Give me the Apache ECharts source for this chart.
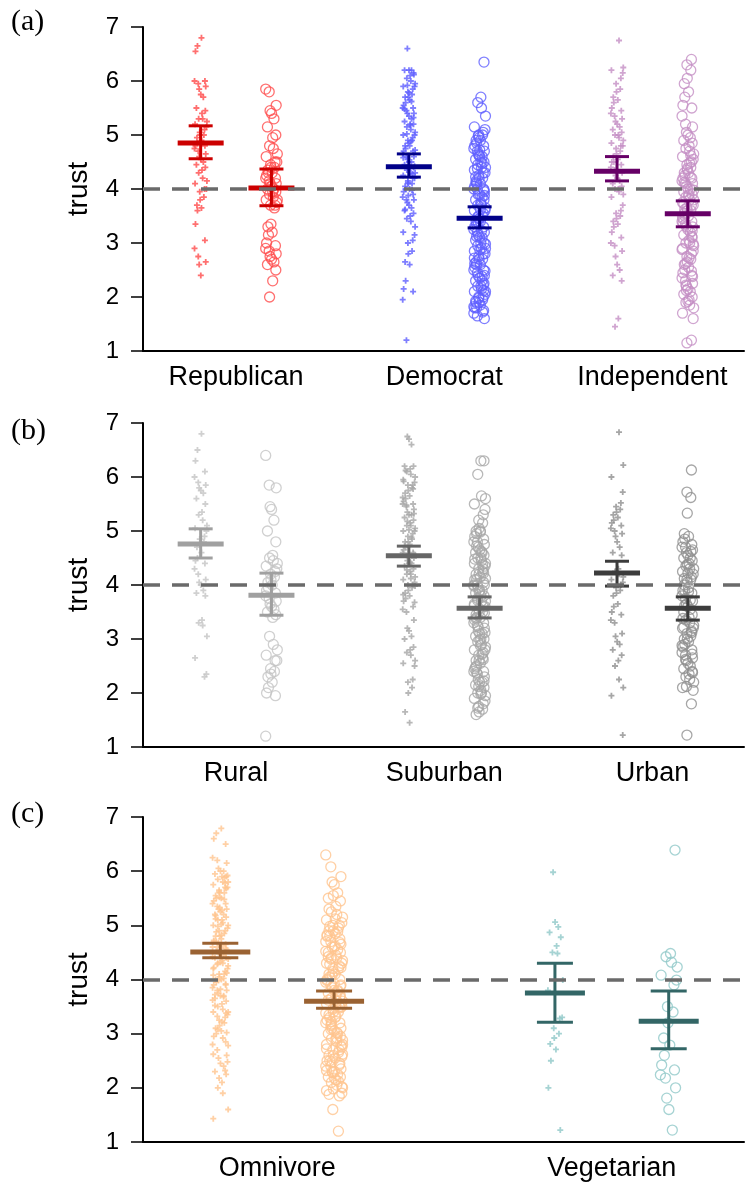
<!DOCTYPE html>
<html>
<head>
<meta charset="utf-8">
<script src="https://cdn.jsdelivr.net/npm/echarts@6/dist/echarts.min.js"></script>
<style>
html,body{margin:0;padding:0;background:#fff}
#main{width:750px;height:1187px}
</style>
</head>
<body>
<div id="main"></div>
<script>
// ---- (a) party ----
var partyCats = ['Republican', 'Democrat', 'Independent'];
var repPlus = [6.8,6.65,6.55,6.0,6.0,5.95,5.9,5.85,5.75,5.7,5.5,5.45,5.4,5.3,5.3,5.25,5.2,5.15,5.1,5.05,5.0,5.0,4.95,4.9,4.85,4.8,4.8,4.75,4.7,4.65,4.6,4.55,4.5,4.45,4.4,4.35,4.3,4.2,4.15,4.1,4.0,4.0,3.95,3.85,3.8,3.7,3.65,3.6,3.35,3.05,2.9,2.75,2.65,2.6,2.4];
var repCircle = [5.85,5.8,5.55,5.45,5.4,5.3,5.15,5.0,4.95,4.8,4.75,4.65,4.6,4.5,4.5,4.45,4.4,4.4,4.35,4.3,4.3,4.25,4.2,4.2,4.15,4.1,4.1,4.05,4.0,4.0,3.95,3.95,3.9,3.85,3.8,3.8,3.75,3.7,3.7,3.65,3.35,3.3,3.2,3.15,3.0,2.95,2.9,2.85,2.8,2.75,2.7,2.65,2.6,2.5,2.3,2.0];
var demPlus = [6.6,6.2,6.2,6.2,6.15,6.1,6.05,6.0,5.95,5.9,5.9,5.85,5.8,5.75,5.7,5.7,5.65,5.6,5.55,5.5,5.5,5.45,5.4,5.4,5.35,5.3,5.25,5.2,5.2,5.15,5.1,5.05,5.0,5.0,4.95,4.9,4.9,4.85,4.8,4.8,4.75,4.7,4.7,4.65,4.6,4.6,4.55,4.5,4.5,4.45,4.4,4.4,4.35,4.3,4.3,4.25,4.2,4.2,4.15,4.1,4.1,4.05,4.0,4.0,3.95,3.9,3.85,3.8,3.8,3.75,3.7,3.65,3.6,3.55,3.5,3.45,3.4,3.3,3.2,3.15,3.05,3.0,2.85,2.8,2.65,2.6,2.3,2.15,2.1,1.95,1.2,
    6.12,5.92,5.78,5.62,5.48,5.32,5.18,5.02,4.88,4.72,4.58,4.42,4.28,4.12,3.98,3.88,3.62];
var demCircle = [6.35,5.7,5.6,5.5,5.35,5.15,5.1,5.05,5.0,5.0,4.95,4.9,4.9,4.85,4.8,4.8,4.75,4.7,4.7,4.65,4.6,4.6,4.55,4.5,4.5,4.45,4.4,4.4,4.35,4.3,4.3,4.25,4.2,4.2,4.15,4.1,4.1,4.05,4.0,4.0,4.0,3.95,3.9,3.9,3.85,3.8,3.8,3.75,3.7,3.7,3.65,3.6,3.6,3.55,3.5,3.5,3.45,3.4,3.4,3.35,3.3,3.3,3.25,3.2,3.2,3.15,3.1,3.1,3.05,3.0,3.0,2.95,2.9,2.9,2.85,2.8,2.8,2.75,2.7,2.7,2.65,2.6,2.6,2.55,2.5,2.5,2.45,2.4,2.4,2.35,2.3,2.3,2.25,2.2,2.2,2.15,2.1,2.1,2.05,2.0,2.0,1.95,1.9,1.9,1.85,1.8,1.8,1.75,1.7,1.65,1.6,
    4.98,4.72,4.48,4.22,3.98,3.72,3.48,3.22,2.98,2.72,2.48,2.22,1.98,1.72,4.62,4.12,3.62,3.12,2.62,2.12,1.82,4.38,3.88,3.38,2.88,2.38,1.92];
var indPlus = [6.75,6.25,6.2,6.15,6.05,5.95,5.85,5.8,5.7,5.65,5.6,5.5,5.45,5.4,5.35,5.3,5.25,5.2,5.15,5.1,5.05,5.0,5.0,4.95,4.9,4.85,4.8,4.8,4.75,4.7,4.65,4.6,4.55,4.5,4.5,4.45,4.4,4.35,4.3,4.25,4.2,4.15,4.1,4.05,4.0,4.0,3.95,3.9,3.85,3.7,3.6,3.55,3.5,3.45,3.4,3.35,3.3,3.2,3.1,3.0,2.95,2.85,2.75,2.6,2.5,2.4,2.3,1.6,1.45];
var indCircle = [6.4,6.3,6.2,6.05,5.95,5.8,5.7,5.55,5.5,5.35,5.2,5.15,5.05,5.0,4.95,4.9,4.85,4.8,4.75,4.7,4.65,4.6,4.55,4.5,4.45,4.4,4.35,4.3,4.3,4.25,4.2,4.2,4.15,4.1,4.1,4.05,4.0,4.0,3.95,3.9,3.9,3.85,3.8,3.8,3.75,3.7,3.7,3.65,3.6,3.6,3.55,3.5,3.5,3.45,3.4,3.4,3.35,3.3,3.3,3.25,3.2,3.15,3.1,3.05,3.0,3.0,2.95,2.9,2.85,2.8,2.75,2.7,2.65,2.6,2.55,2.5,2.45,2.4,2.35,2.3,2.25,2.2,2.15,2.1,2.05,2.0,1.95,1.9,1.85,1.8,1.7,1.6,1.2,1.15,
    4.62,4.38,4.12,3.88,3.62,3.38,3.12,2.88,2.62,2.38,2.12,1.92,4.22,3.72,3.22,2.72,2.22,4.48,3.98,3.48,2.98,2.48];
// mean, lower, upper: plus then circle for each group
var partyMeans = [[4.85,4.56,5.17],[4.02,3.69,4.37],[4.41,4.22,4.65],[3.46,3.28,3.67],[4.33,4.15,4.6],[3.54,3.30,3.78]];

// ---- (b) area ----
var areaCats = ['Rural', 'Suburban', 'Urban'];
var ruralPlus = [6.8,6.5,6.3,6.1,6.0,5.9,5.85,5.8,5.75,5.7,5.6,5.5,5.35,5.3,5.2,5.1,5.05,5.0,4.9,4.85,4.8,4.75,4.7,4.6,4.5,4.45,4.4,4.3,4.2,4.1,4.05,4.0,3.9,3.85,3.8,3.35,3.3,3.25,3.05,2.65,2.35,2.3];
var ruralCircle = [6.4,5.85,5.8,5.45,5.4,5.2,5.0,4.8,4.55,4.5,4.45,4.4,4.35,4.3,4.25,4.2,4.15,4.1,4.05,4.0,3.95,3.9,3.85,3.8,3.75,3.7,3.65,3.6,3.55,3.5,3.45,3.4,3.05,2.9,2.8,2.7,2.6,2.6,2.45,2.4,2.35,2.3,2.2,2.1,2.0,1.95,1.2];
var suburbanPlus = [6.75,6.7,6.6,6.2,6.2,6.15,6.1,6.05,6.0,5.95,5.9,5.85,5.85,5.8,5.75,5.7,5.65,5.6,5.55,5.5,5.5,5.45,5.4,5.35,5.3,5.3,5.25,5.2,5.15,5.1,5.1,5.05,5.0,5.0,4.95,4.9,4.85,4.8,4.8,4.75,4.7,4.65,4.6,4.6,4.55,4.5,4.45,4.4,4.4,4.35,4.3,4.25,4.2,4.2,4.15,4.1,4.05,4.0,4.0,3.95,3.9,3.85,3.8,3.75,3.7,3.6,3.55,3.5,3.35,3.2,3.15,3.05,3.0,2.85,2.8,2.75,2.7,2.6,2.55,2.5,2.25,2.2,2.1,2.0,1.65,1.45,
    6.12,5.92,5.78,5.62,5.48,5.32,5.18,5.02,4.88,4.72,4.58,4.42,4.28,4.12,3.98,3.82,3.68];
var suburbanCircle = [6.3,6.3,6.05,5.65,5.6,5.5,5.4,5.3,5.2,5.15,5.05,5.0,5.0,4.95,4.9,4.85,4.8,4.8,4.75,4.7,4.65,4.6,4.6,4.55,4.5,4.5,4.45,4.4,4.4,4.35,4.3,4.3,4.25,4.2,4.2,4.15,4.1,4.1,4.05,4.0,4.0,4.0,3.95,3.9,3.9,3.85,3.8,3.8,3.75,3.7,3.7,3.65,3.6,3.6,3.55,3.5,3.5,3.45,3.4,3.4,3.35,3.3,3.3,3.25,3.2,3.15,3.1,3.1,3.05,3.0,3.0,2.95,2.9,2.85,2.8,2.8,2.75,2.7,2.65,2.6,2.6,2.55,2.5,2.45,2.4,2.4,2.35,2.3,2.25,2.2,2.2,2.15,2.1,2.05,2.0,2.0,1.95,1.9,1.85,1.8,1.75,1.7,1.65,1.6,
    4.98,4.72,4.48,4.22,3.98,3.72,3.48,3.22,2.98,2.72,2.48,2.22,1.98,1.72,4.62,4.12,3.62,3.12,2.62,2.12,4.38,3.88,3.38,2.88,2.38];
var urbanPlus = [6.83,6.22,6.0,5.72,5.52,5.45,5.4,5.35,5.3,5.25,5.2,5.15,5.1,5.05,5.0,4.95,4.9,4.8,4.7,4.6,4.55,4.3,4.25,4.2,4.15,4.1,4.05,4.0,3.95,3.9,3.85,3.8,3.65,3.6,3.5,3.45,3.35,3.3,3.1,3.05,2.95,2.9,2.8,2.7,2.6,2.5,2.25,2.1,1.95,1.22];
var urbanCircle = [6.13,5.72,5.62,5.33,4.95,4.9,4.85,4.8,4.75,4.7,4.7,4.65,4.6,4.55,4.5,4.5,4.45,4.4,4.35,4.3,4.3,4.25,4.2,4.15,4.1,4.1,4.05,4.0,3.95,3.9,3.9,3.85,3.8,3.75,3.7,3.65,3.6,3.55,3.5,3.45,3.4,3.35,3.3,3.25,3.2,3.2,3.15,3.1,3.05,3.0,3.0,2.95,2.9,2.85,2.8,2.75,2.7,2.65,2.6,2.55,2.5,2.45,2.4,2.35,2.3,2.25,2.2,2.1,2.05,1.8,1.22,
    4.62,4.38,4.12,3.88,3.62,3.38,3.12,2.88,2.62,2.38,2.12,4.22,3.72,3.22,2.72];
var areaMeans = [[4.76,4.5,5.04],[3.81,3.44,4.22],[4.54,4.35,4.72],[3.57,3.39,3.78],[4.22,3.98,4.44],[3.57,3.35,3.78]];

// ---- (c) diet ----
var dietCats = ['Omnivore', 'Vegetarian'];
var omniPlus = [6.79,6.7,6.6,6.5,6.25,6.2,6.15,6.05,6.0,6.0,5.95,5.9,5.9,5.85,5.8,5.8,5.75,5.7,5.7,5.65,5.6,5.6,5.55,5.5,5.5,5.45,5.4,5.4,5.35,5.3,5.3,5.25,5.2,5.2,5.15,5.1,5.1,5.05,5.0,5.0,4.95,4.9,4.9,4.85,4.8,4.8,4.75,4.7,4.7,4.65,4.6,4.6,4.55,4.5,4.5,4.45,4.4,4.4,4.35,4.3,4.3,4.25,4.2,4.2,4.15,4.1,4.1,4.05,4.0,4.0,3.95,3.9,3.9,3.85,3.8,3.8,3.75,3.7,3.7,3.65,3.6,3.55,3.5,3.45,3.4,3.4,3.35,3.3,3.25,3.2,3.15,3.1,3.05,3.0,2.95,2.85,2.8,2.7,2.6,2.55,2.45,2.4,2.3,2.25,2.1,2.0,1.9,1.6,1.43,
    5.92,5.78,5.62,5.48,5.33,5.18,5.02,4.88,4.72,4.58,4.42,4.28,4.12,3.98,3.82,3.68,3.52,3.38,3.22,3.08,2.92,2.78,2.62,2.48,2.32,2.18,5.88,5.52,5.12,4.82,4.52,4.22,3.92,3.62,3.32,3.02,4.68,4.32,4.02,3.72,5.68,5.28,4.98,4.62,4.38,4.08];
var omniCircle = [6.3,6.08,5.9,5.8,5.75,5.6,5.5,5.45,5.35,5.25,5.2,5.15,5.1,5.05,5.0,5.0,4.95,4.9,4.9,4.85,4.8,4.8,4.75,4.7,4.7,4.65,4.6,4.6,4.55,4.5,4.5,4.45,4.4,4.4,4.35,4.3,4.3,4.25,4.2,4.2,4.15,4.1,4.1,4.05,4.0,4.0,3.95,3.9,3.9,3.85,3.8,3.8,3.75,3.7,3.7,3.65,3.6,3.6,3.55,3.5,3.5,3.45,3.4,3.4,3.35,3.3,3.3,3.25,3.2,3.2,3.15,3.1,3.1,3.05,3.0,3.0,2.95,2.9,2.9,2.85,2.8,2.8,2.75,2.7,2.7,2.65,2.6,2.6,2.55,2.5,2.5,2.45,2.4,2.4,2.35,2.3,2.3,2.25,2.2,2.2,2.15,2.1,2.05,2.0,1.95,1.9,1.85,1.6,1.2,
    5.55,5.3,5.12,4.98,4.82,4.68,4.52,4.38,4.22,4.08,3.92,3.78,3.62,3.48,3.32,3.18,3.02,2.88,2.72,2.58,2.42,2.28,2.12,1.98,1.88,4.62,4.28,3.98,3.68,3.38,3.08,2.78,2.48,2.18,4.88,4.42,3.88,3.52,3.22,2.92,2.62,2.32,2.02];
var vegPlus = [5.98,5.06,4.97,4.87,4.78,4.62,4.5,4.48,3.99,3.8,3.3,3.28,3.1,3.0,2.92,2.81,2.71,2.5,2.0,1.22];
var vegCircle = [6.39,4.48,4.42,4.32,4.23,4.08,3.99,3.9,3.5,3.4,3.2,2.92,2.79,2.6,2.42,2.33,2.24,2.18,2.0,1.81,1.6,1.22];
var dietMeans = [[4.51,4.4,4.67],[3.6,3.47,3.79],[3.75,3.21,4.3],[3.23,2.72,3.79]];

var yTicks = [1, 2, 3, 4, 5, 6, 7];
var refLine = 4;

// jitter pattern for the dot columns
var JIT = [0.12,-0.64,0.48,-0.22,0.86,-0.92,0.3,-0.48,0.7,-0.08,0.02,0.58,-0.36,0.94,-0.78,0.2,-0.56,0.4,-0.14,0.76,-0.84,0.64,-0.3];
var PLUS = 'path://M3.5,0H6.5V3.5H10V6.5H6.5V10H3.5V6.5H0V3.5H3.5Z';
var FONT = '"Liberation Sans", Arial, sans-serif';

var panels = [
    {letter: '(a)', top: 27, h: 324, cats: partyCats, xMin: 0.553, xMax: 3.44,
     groups: [[repPlus, repCircle], [demPlus, demCircle], [indPlus, indCircle]], means: partyMeans,
     ptColors: ['#ff4c4c', '#5f5fff', '#c48fc4'], meanColors: ['#cc0000', '#000088', '#660066'],
     jitP: 0.032, jitC: 0.03, half: 23, cap: 12, letterY: 7},
    {letter: '(b)', top: 423, h: 324, cats: areaCats, xMin: 0.553, xMax: 3.44,
     groups: [[ruralPlus, ruralCircle], [suburbanPlus, suburbanCircle], [urbanPlus, urbanCircle]], means: areaMeans,
     ptColors: ['#c4c4c4', '#a6a6a6', '#909090'], meanColors: ['#a0a0a0', '#666666', '#3c3c3c'],
     jitP: 0.032, jitC: 0.03, half: 23, cap: 12, letterY: 416},
    {letter: '(c)', top: 817, h: 325, cats: dietCats, xMin: 0.599, xMax: 2.395,
     groups: [[omniPlus, omniCircle], [vegPlus, vegCircle]], means: dietMeans,
     ptColors: ['#ffc48e', '#90c8c8'], meanColors: ['#9a6232', '#336666'],
     jitP: 0.025, jitC: 0.027, half: 30, cap: 18, letterY: 799}
];

var grids = [], xAxes = [], yAxes = [], series = [], graphics = [];

function meanRenderer(p) {
    return function (params, api) {
        var x = api.value(0);
        var c = api.coord([x, api.value(1)]);
        var lo = api.coord([x, api.value(2)]);
        var hi = api.coord([x, api.value(3)]);
        var col = p.meanColors[api.value(4)];
        var thin = {stroke: col, lineWidth: 3};
        return {type: 'group', children: [
            {type: 'line', shape: {x1: c[0], y1: lo[1], x2: c[0], y2: hi[1]}, style: thin},
            {type: 'line', shape: {x1: c[0] - p.cap, y1: lo[1], x2: c[0] + p.cap, y2: lo[1]}, style: thin},
            {type: 'line', shape: {x1: c[0] - p.cap, y1: hi[1], x2: c[0] + p.cap, y2: hi[1]}, style: thin},
            {type: 'line', shape: {x1: c[0] - p.half, y1: c[1], x2: c[0] + p.half, y2: c[1]}, style: {stroke: col, lineWidth: 5}}
        ]};
    };
}

panels.forEach(function (p, pi) {
    grids.push({left: 143, right: 6, top: p.top, height: p.h});
    xAxes.push({
        type: 'value', gridIndex: pi, min: p.xMin, max: p.xMax,
        splitLine: {show: false}, axisTick: {show: false},
        axisLine: {show: true, lineStyle: {color: '#000', width: 2}},
        axisLabel: {
            customValues: p.cats.map(function (c, i) { return i + 1; }),
            formatter: function (v) { return p.cats[Math.round(v) - 1]; },
            fontSize: 27, color: '#000', fontFamily: FONT, margin: 13
        }
    });
    yAxes.push({
        type: 'value', gridIndex: pi, min: yTicks[0], max: yTicks[yTicks.length - 1], interval: 1,
        splitLine: {show: false},
        axisLine: {show: true, lineStyle: {color: '#000', width: 2}},
        axisTick: {show: true, length: 12, lineStyle: {color: '#000', width: 1.5}},
        axisLabel: {fontSize: 24, color: '#000', fontFamily: FONT, margin: 24},
        name: 'trust', nameLocation: 'middle', nameGap: 50, nameRotate: 90,
        nameTextStyle: {fontSize: 28, color: '#000', fontFamily: FONT}
    });

    var meanData = [];
    p.groups.forEach(function (g, gi) {
        [0, 1].forEach(function (side) {
            var pos = gi + 1 + (side ? 0.17 : -0.17);
            var jw = side ? p.jitC : p.jitP;
            series.push({
                type: 'scatter', xAxisIndex: pi, yAxisIndex: pi, silent: true, z: 2,
                symbol: side ? 'circle' : PLUS,
                symbolSize: side ? 10 : 6,
                itemStyle: side ? {color: 'rgba(0,0,0,0)', borderColor: p.ptColors[gi], borderWidth: 1.3}
                                : {color: p.ptColors[gi]},
                data: g[side].map(function (v, k) {
                    return [pos + JIT[(k * 7 + gi * 3 + side * 5) % JIT.length] * jw, v];
                })
            });
            var m = p.means[gi * 2 + side];
            meanData.push([pos, m[0], m[1], m[2], gi]);
        });
    });

    // reference line at trust = 4
    series.push({
        type: 'line', xAxisIndex: pi, yAxisIndex: pi, data: [], z: 3, silent: true,
        markLine: {
            silent: true, symbol: 'none', label: {show: false},
            lineStyle: {color: '#6a6a6a', width: 3.5, type: [17, 12]},
            data: [{yAxis: refLine}]
        }
    });

    series.push({
        type: 'custom', xAxisIndex: pi, yAxisIndex: pi, z: 4, silent: true, clip: false,
        renderItem: meanRenderer(p),
        encode: {x: 0, y: 1},
        data: meanData
    });

    graphics.push({
        type: 'text', left: 11, top: p.letterY,
        style: {text: p.letter, fontSize: 30, fontFamily: '"Liberation Serif", "Times New Roman", serif', fill: '#000'}
    });
});

var myChart = echarts.init(document.getElementById('main'));
myChart.setOption({
    animation: false,
    backgroundColor: '#fff',
    grid: grids,
    xAxis: xAxes,
    yAxis: yAxes,
    series: series,
    graphic: graphics
});
window.addEventListener('resize', function () {
    myChart.resize();
});
</script>
</body>
</html>
